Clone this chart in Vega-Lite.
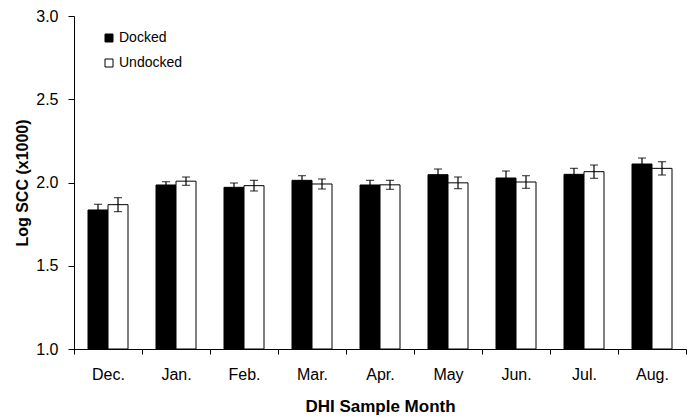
{
  "$schema": "https://vega.github.io/schema/vega-lite/v6.json",
  "width": 612,
  "height": 333,
  "autosize": {"type": "none"},
  "padding": {"left": 74, "top": 16, "right": 3, "bottom": 69},
  "background": "white",
  "config": {
    "font": "Liberation Sans",
    "view": {"stroke": null},
    "axis": {"domainColor": "black", "tickColor": "black", "labelColor": "black", "titleColor": "black", "grid": false}
  },
  "data": {
    "values": [
      {"month": "Dec.", "group": "Docked", "mean": 1.835, "lo": 1.801, "hi": 1.869},
      {"month": "Dec.", "group": "Undocked", "mean": 1.867, "lo": 1.825, "hi": 1.909},
      {"month": "Jan.", "group": "Docked", "mean": 1.985, "lo": 1.965, "hi": 2.005},
      {"month": "Jan.", "group": "Undocked", "mean": 2.008, "lo": 1.983, "hi": 2.033},
      {"month": "Feb.", "group": "Docked", "mean": 1.971, "lo": 1.945, "hi": 1.997},
      {"month": "Feb.", "group": "Undocked", "mean": 1.981, "lo": 1.949, "hi": 2.013},
      {"month": "Mar.", "group": "Docked", "mean": 2.013, "lo": 1.985, "hi": 2.041},
      {"month": "Mar.", "group": "Undocked", "mean": 1.991, "lo": 1.961, "hi": 2.021},
      {"month": "Apr.", "group": "Docked", "mean": 1.985, "lo": 1.957, "hi": 2.013},
      {"month": "Apr.", "group": "Undocked", "mean": 1.986, "lo": 1.959, "hi": 2.013},
      {"month": "May", "group": "Docked", "mean": 2.047, "lo": 2.013, "hi": 2.081},
      {"month": "May", "group": "Undocked", "mean": 1.998, "lo": 1.963, "hi": 2.033},
      {"month": "Jun.", "group": "Docked", "mean": 2.027, "lo": 1.985, "hi": 2.069},
      {"month": "Jun.", "group": "Undocked", "mean": 2.003, "lo": 1.965, "hi": 2.041},
      {"month": "Jul.", "group": "Docked", "mean": 2.049, "lo": 2.013, "hi": 2.085},
      {"month": "Jul.", "group": "Undocked", "mean": 2.065, "lo": 2.025, "hi": 2.105},
      {"month": "Aug.", "group": "Docked", "mean": 2.111, "lo": 2.075, "hi": 2.147},
      {"month": "Aug.", "group": "Undocked", "mean": 2.085, "lo": 2.045, "hi": 2.125}
    ]
  },
  "encoding": {
    "x": {
      "field": "month", "type": "nominal", "sort": null,
      "scale": {"paddingInner": 0, "paddingOuter": 0},
      "axis": {
        "title": "DHI Sample Month", "labelAngle": 0, "tickBand": "extent",
        "labelFontSize": 16, "labelPadding": 12, "tickSize": 5,
        "titleFontSize": 17, "titleFontWeight": "bold", "titlePadding": 16
      }
    },
    "xOffset": {
      "field": "group", "type": "nominal",
      "scale": {"domain": ["Docked", "Undocked"], "paddingInner": 0, "paddingOuter": 0.7}
    }
  },
  "layer": [
    {
      "mark": {"type": "bar", "stroke": "black", "strokeWidth": 1},
      "encoding": {
        "y": {
          "field": "mean", "type": "quantitative",
          "scale": {"domain": [1, 3], "zero": false, "nice": false},
          "axis": {
            "title": "Log SCC (x1000)", "values": [1, 1.5, 2, 2.5, 3], "format": ".1f",
            "labelFontSize": 16, "labelPadding": 10, "tickSize": 6,
            "titleFontSize": 16, "titleFontWeight": "bold", "titlePadding": 5
          }
        },
        "y2": {"datum": 1},
        "color": {
          "field": "group", "type": "nominal",
          "scale": {"domain": ["Docked", "Undocked"], "range": ["black", "white"]},
          "legend": {
            "title": null, "orient": "none", "legendX": 28, "legendY": 15,
            "symbolType": "square", "symbolSize": 64, "symbolStrokeColor": "black",
            "symbolStrokeWidth": 1, "labelFontSize": 14, "labelColor": "black",
            "rowPadding": 11, "padding": 0, "labelOffset": 3
          }
        }
      }
    },
    {
      "mark": {"type": "rule", "stroke": "black", "strokeWidth": 1.2},
      "encoding": {
        "y": {"field": "lo", "type": "quantitative"},
        "y2": {"field": "hi"}
      }
    },
    {
      "mark": {"type": "tick", "orient": "horizontal", "size": 8, "thickness": 1.2, "color": "black"},
      "encoding": {"y": {"field": "lo", "type": "quantitative"}}
    },
    {
      "mark": {"type": "tick", "orient": "horizontal", "size": 8, "thickness": 1.2, "color": "black"},
      "encoding": {"y": {"field": "hi", "type": "quantitative"}}
    }
  ]
}
